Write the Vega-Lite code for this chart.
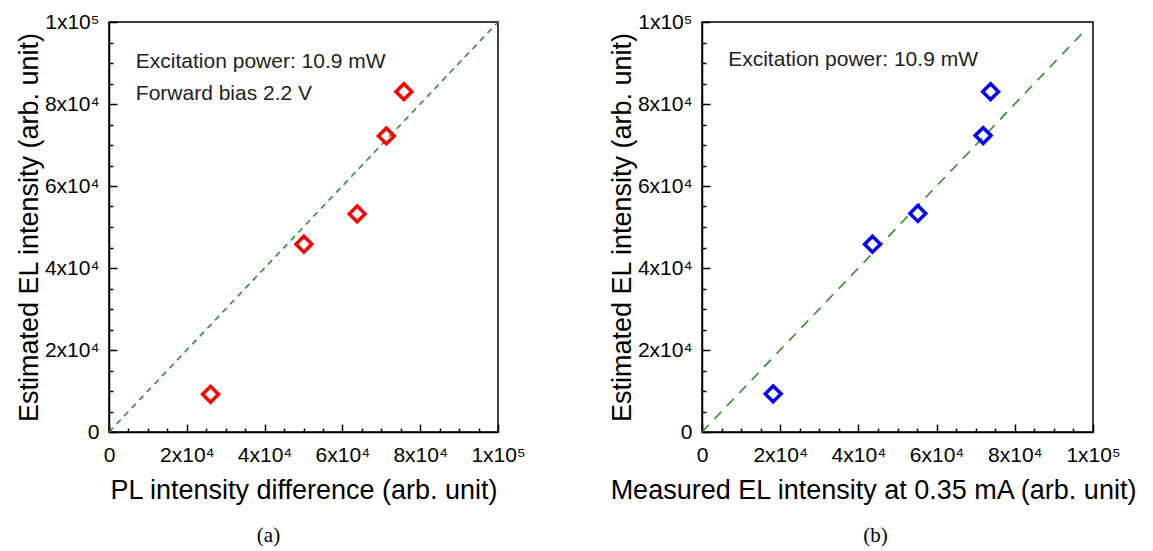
{
  "$schema": "https://vega.github.io/schema/vega-lite/v6.json",
  "padding": {"left": 14, "top": 10, "right": 5, "bottom": 5},
  "spacing": 81,
  "background": "white",
  "config": {
    "font": "Liberation Sans",
    "view": {"stroke": "black", "strokeWidth": 1.5},
    "axis": {
      "grid": false,
      "domainColor": "black",
      "domainWidth": 1.5,
      "tickColor": "black",
      "tickWidth": 1.5,
      "labelFont": "Liberation Sans",
      "labelFontSize": 21,
      "labelColor": "black",
      "labelFlush": false,
      "labelOverlap": false,
      "titleFont": "Liberation Sans",
      "titleFontSize": 27,
      "titleFontWeight": "normal",
      "titleColor": "black"
    },
    "title": {"font": "Liberation Serif", "fontSize": 21, "fontWeight": "normal", "color": "black", "orient": "bottom", "frame": "group", "anchor": "middle"}
  },
  "datasets": {
    "ptsA": [
      {"x": 26100, "y": 9200},
      {"x": 50100, "y": 45800},
      {"x": 63800, "y": 53200},
      {"x": 71300, "y": 72200},
      {"x": 75800, "y": 83000}
    ],
    "ptsB": [
      {"x": 18200, "y": 9300},
      {"x": 43600, "y": 45800},
      {"x": 55200, "y": 53300},
      {"x": 71900, "y": 72300},
      {"x": 73800, "y": 83000}
    ],
    "lineA": [{"x": 0, "y": 0}, {"x": 100000, "y": 100000}],
    "lineB": [{"x": 0, "y": 0}, {"x": 98000, "y": 98000}],
    "textA": [
      {"x": 6900, "y": 88800, "label": "Excitation power: 10.9 mW"},
      {"x": 6900, "y": 80900, "label": "Forward bias 2.2 V"}
    ],
    "textB": [
      {"x": 6700, "y": 89200, "label": "Excitation power: 10.9 mW"}
    ]
  },
  "hconcat": [
    {
      "width": 389,
      "height": 410,
      "title": {"text": "(a)", "dx": -35, "offset": 22},
      "resolve": {"axis": {"x": "independent", "y": "independent"}},
      "layer": [
        {
          "data": {"name": "lineA"},
          "mark": {"type": "line", "color": "#238b23", "strokeWidth": 1.5, "strokeDash": [6, 5]},
          "encoding": {
            "x": {"field": "x", "type": "quantitative", "scale": {"domain": [0, 100000]}, "title": "PL intensity difference (arb. unit)",
              "axis": {"orient": "bottom", "values": [0, 20000, 40000, 60000, 80000, 100000], "ticks": false, "labelPadding": 12, "titlePadding": 12,
                "labelExpr": "datum.value === 0 ? '0' : (datum.value === 100000 ? '1x10\u2075' : (datum.value / 10000) + 'x10\u2074')"}},
            "y": {"field": "y", "type": "quantitative", "scale": {"domain": [0, 100000]}, "title": "Estimated EL intensity (arb. unit)",
              "axis": {"orient": "left", "values": [0, 20000, 40000, 60000, 80000, 100000], "ticks": false, "labelPadding": 10, "titlePadding": 1,
                "labelExpr": "datum.value === 0 ? '0' : (datum.value === 100000 ? '1x10\u2075' : (datum.value / 10000) + 'x10\u2074')"}}
          }
        },
        {
          "data": {"name": "ptsA"},
          "mark": {"type": "point", "shape": "diamond", "filled": false, "color": "#ff0000", "strokeWidth": 3.5, "size": 250, "opacity": 1},
          "encoding": {
            "x": {"field": "x", "type": "quantitative",
              "axis": {"orient": "bottom", "values": [0, 20000, 40000, 60000, 80000, 100000], "tickSize": 8, "offset": -8, "labels": false, "domain": false, "title": null}},
            "y": {"field": "y", "type": "quantitative",
              "axis": {"orient": "left", "values": [0, 20000, 40000, 60000, 80000, 100000], "tickSize": 8, "offset": -8, "labels": false, "domain": false, "title": null}}
          }
        },
        {
          "data": {"name": "textA"},
          "mark": {"type": "text", "align": "left", "baseline": "alphabetic", "fontSize": 21, "font": "Liberation Sans", "color": "#222222"},
          "encoding": {
            "x": {"field": "x", "type": "quantitative",
              "axis": {"orient": "bottom", "values": [10000, 30000, 50000, 70000, 90000, 5000, 15000, 25000, 35000, 45000, 55000, 65000, 75000, 85000, 95000], "tickSize": 4, "offset": -4, "labels": false, "domain": false, "title": null}},
            "y": {"field": "y", "type": "quantitative",
              "axis": {"orient": "left", "values": [10000, 30000, 50000, 70000, 90000, 5000, 15000, 25000, 35000, 45000, 55000, 65000, 75000, 85000, 95000], "tickSize": 4, "offset": -4, "labels": false, "domain": false, "title": null}},
            "text": {"field": "label"}
          }
        }
      ]
    },
    {
      "width": 391,
      "height": 410,
      "title": {"text": "(b)", "dx": -22, "offset": 22},
      "resolve": {"axis": {"x": "independent", "y": "independent"}},
      "layer": [
        {
          "data": {"name": "lineB"},
          "mark": {"type": "line", "color": "#238b23", "strokeWidth": 1.5, "strokeDash": [10, 8]},
          "encoding": {
            "x": {"field": "x", "type": "quantitative", "scale": {"domain": [0, 100000]}, "title": "Measured EL intensity at 0.35 mA (arb. unit)",
              "axis": {"orient": "bottom", "values": [0, 20000, 40000, 60000, 80000, 100000], "ticks": false, "labelPadding": 12, "titlePadding": 12, "titleX": 171,
                "labelExpr": "datum.value === 0 ? '0' : (datum.value === 100000 ? '1x10\u2075' : (datum.value / 10000) + 'x10\u2074')"}},
            "y": {"field": "y", "type": "quantitative", "scale": {"domain": [0, 100000]}, "title": "Estimated EL intensity (arb. unit)",
              "axis": {"orient": "left", "values": [0, 20000, 40000, 60000, 80000, 100000], "ticks": false, "labelPadding": 10, "titlePadding": 1,
                "labelExpr": "datum.value === 0 ? '0' : (datum.value === 100000 ? '1x10\u2075' : (datum.value / 10000) + 'x10\u2074')"}}
          }
        },
        {
          "data": {"name": "ptsB"},
          "mark": {"type": "point", "shape": "diamond", "filled": false, "color": "#0000ff", "strokeWidth": 3.5, "size": 250, "opacity": 1},
          "encoding": {
            "x": {"field": "x", "type": "quantitative",
              "axis": {"orient": "bottom", "values": [0, 20000, 40000, 60000, 80000, 100000], "tickSize": 8, "offset": -8, "labels": false, "domain": false, "title": null}},
            "y": {"field": "y", "type": "quantitative",
              "axis": {"orient": "left", "values": [0, 20000, 40000, 60000, 80000, 100000], "tickSize": 8, "offset": -8, "labels": false, "domain": false, "title": null}}
          }
        },
        {
          "data": {"name": "textB"},
          "mark": {"type": "text", "align": "left", "baseline": "alphabetic", "fontSize": 21, "font": "Liberation Sans", "color": "#222222"},
          "encoding": {
            "x": {"field": "x", "type": "quantitative",
              "axis": {"orient": "bottom", "values": [10000, 30000, 50000, 70000, 90000, 5000, 15000, 25000, 35000, 45000, 55000, 65000, 75000, 85000, 95000], "tickSize": 4, "offset": -4, "labels": false, "domain": false, "title": null}},
            "y": {"field": "y", "type": "quantitative",
              "axis": {"orient": "left", "values": [10000, 30000, 50000, 70000, 90000, 5000, 15000, 25000, 35000, 45000, 55000, 65000, 75000, 85000, 95000], "tickSize": 4, "offset": -4, "labels": false, "domain": false, "title": null}},
            "text": {"field": "label"}
          }
        }
      ]
    }
  ]
}
